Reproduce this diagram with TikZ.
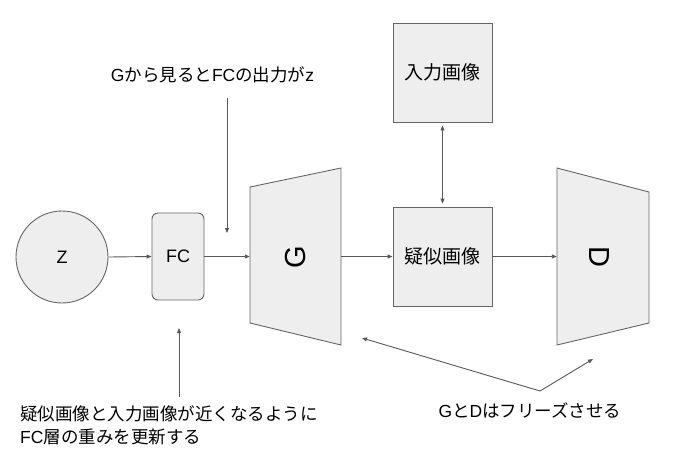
\documentclass[tikz,border=0pt]{standalone}
\usepackage{fontspec}
\setmainfont{Liberation Sans}
\newfontfamily\jp{Noto Sans CJK JP}
\usetikzlibrary{arrows.meta}
\definecolor{boxfill}{HTML}{EEEEEE}
\definecolor{linegray}{HTML}{595959}
\definecolor{edgegray}{HTML}{666666}
\begin{document}
\begin{tikzpicture}[x=1pt,y=-1pt,
  every node/.style={font=\fontsize{17.5}{23}\selectfont, text=black},
  shapebox/.style={draw=edgegray, fill=boxfill, line width=0.9pt, inner sep=0pt},
  boxlabel/.style={font=\fontsize{19}{23}\selectfont},
  conn/.style={draw=linegray, line width=0.9pt, -{Triangle[length=5pt,width=4pt]}},
  biconn/.style={draw=linegray, line width=0.9pt, {Triangle[length=5pt,width=4pt]}-{Triangle[length=5pt,width=4pt]}},
  bigletter/.style={font=\fontsize{29}{29}\selectfont}
]
\useasboundingbox (0,0) rectangle (695,467);
\fill[white] (0,0) rectangle (695,467);

% nodes
\node[shapebox, circle, minimum size=92pt, font=\fontsize{18}{23}\selectfont] (z) at (62,257) {Z};
\node[shapebox, rectangle, rounded corners=6pt, minimum width=52pt, minimum height=87pt, font=\fontsize{18}{23}\selectfont] (fc) at (178,256.5) {FC};

% G trapezoid
\node[minimum width=91pt, minimum height=177pt, inner sep=0pt] (G) at (295.5,256.5) {};
\draw[shapebox] (250,187) -- (341,168) -- (341,345) -- (250,323) -- cycle;
\node[bigletter, rotate=90] at (296,257) {G};

% D trapezoid
\node[minimum width=92pt, minimum height=177pt, inner sep=0pt] (D) at (603,256.5) {};
\draw[shapebox] (557,168) -- (649,192) -- (649,323) -- (557,345) -- cycle;
\node[bigletter, rotate=-90] at (599,257) {D};

\node[shapebox, boxlabel, rectangle, minimum width=99pt, minimum height=99pt] (fake) at (442.5,256.5) {\jp 疑似画像};
\node[shapebox, boxlabel, rectangle, minimum width=99pt, minimum height=99pt] (input) at (442.5,72.5) {\jp 入力画像};

% labels
\node (toptext) at (212.5,75) {G{\jp から見ると}FC{\jp の出力が}z};
\node[align=left, anchor=north west, inner sep=0pt] (bottext) at (20,405) {{\jp 疑似画像と入力画像が近くなるように}\\FC{\jp 層の重みを更新する}};
\node (freeze) at (530,410) {G{\jp と}D{\jp はフリーズさせる}};

% coordinates for free ends
\coordinate (t1) at (227,98);
\coordinate (t2) at (227,233);
\coordinate (b1) at (179,397);
\coordinate (b2) at (179,328);
\coordinate (apex) at (540,391);
\coordinate (fG) at (362,338);
\coordinate (fD) at (593,359);

% connectors
\draw[conn] (z.east) -- (fc.west);
\draw[conn] (fc.east) -- (G.west);
\draw[conn] (G.east) -- (fake.west);
\draw[conn] (fake.east) -- (D.west);
\draw[biconn, shorten <=3pt, shorten >=3pt] (input.south) -- (fake.north);
\draw[conn] (t1) -- (t2);
\draw[conn] (b1) -- (b2);
\draw[conn] (apex) -- (fG);
\draw[conn] (apex) -- (fD);
\end{tikzpicture}
\end{document}
